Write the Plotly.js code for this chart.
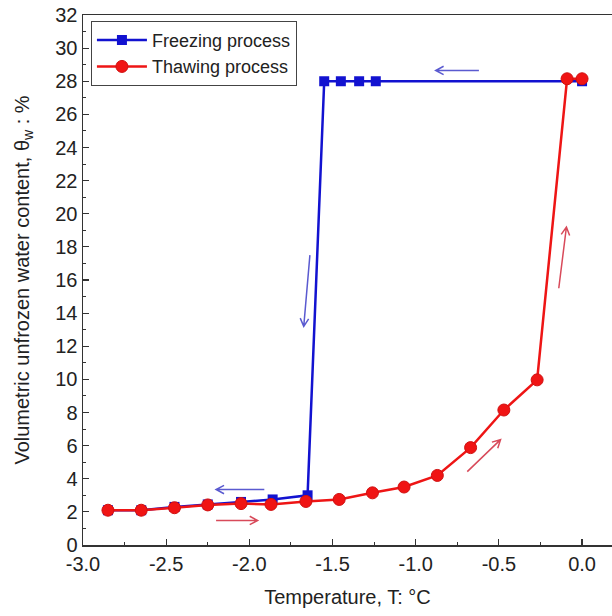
<!DOCTYPE html>
<html>
<head>
<meta charset="utf-8">
<script src="https://cdn.plot.ly/plotly-3.0.1.min.js"></script>
<style>html,body{margin:0;padding:0;background:#fff;}#chart{width:612px;height:616px;}</style>
</head>
<body>
<div id="chart"></div>
<script>
// Data
const freezeT = [0.0, -1.24, -1.34, -1.45, -1.55, -1.65, -1.86, -2.05, -2.25, -2.45, -2.65, -2.85];
const freezeW = [28.0, 28.0, 28.0, 28.0, 28.0, 3.0, 2.75, 2.6, 2.45, 2.3, 2.1, 2.1];
const thawT = [-2.85, -2.65, -2.45, -2.25, -2.05, -1.87, -1.66, -1.46, -1.26, -1.07, -0.87, -0.67, -0.47, -0.27, -0.09, 0.0];
const thawW = [2.1, 2.1, 2.25, 2.42, 2.5, 2.45, 2.63, 2.75, 3.15, 3.5, 4.2, 5.88, 8.15, 9.97, 28.15, 28.15];
const xTickVals = [-3.0, -2.5, -2.0, -1.5, -1.0, -0.5, 0.0];
const xTickText = ["-3.0", "-2.5", "-2.0", "-1.5", "-1.0", "-0.5", "0.0"];
const seriesNames = ["Freezing process", "Thawing process"];
// Direction arrows: [tailX, tailY, tipX, tipY, colour]
const arrows = [
  [-0.62, 28.65, -0.88, 28.65, '#5a5ad0'],
  [-1.91, 3.35, -2.20, 3.35, '#5a5ad0'],
  [-1.636, 17.5, -1.673, 13.2, '#5a5ad0'],
  [-2.20, 1.48, -1.95, 1.48, '#d84a5a'],
  [-0.69, 4.43, -0.49, 6.36, '#d84a5a'],
  [-0.14, 15.5, -0.094, 19.2, '#d84a5a']
];

const W = 612, H = 616;
const m = {l: 83, r: 0, t: 15, b: 71};
const xr = [-3.0, 0.18], yr = [0, 32];
const pxX = (W - m.l - m.r) / (xr[1] - xr[0]);
const pxY = (H - m.t - m.b) / (yr[1] - yr[0]);

function arrowPath(a) {
  const [x1, y1, x2, y2] = a;
  const dx = (x2 - x1) * pxX, dy = (y2 - y1) * pxY;
  const len = Math.hypot(dx, dy);
  const ux = dx / len, uy = dy / len;
  const L = 9, ang = 28 * Math.PI / 180;
  const pts = [ang, -ang].map(t => {
    const rx = ux * Math.cos(t) - uy * Math.sin(t);
    const ry = ux * Math.sin(t) + uy * Math.cos(t);
    return [x2 - L * rx / pxX, y2 - L * ry / pxY];
  });
  return `M ${x1} ${y1} L ${x2} ${y2} M ${pts[0][0]} ${pts[0][1]} L ${x2} ${y2} L ${pts[1][0]} ${pts[1][1]}`;
}

const font = {family: 'Liberation Sans, Arial, sans-serif', size: 20, color: '#222'};
const legFont = {family: 'Liberation Sans, Arial, sans-serif', size: 18, color: '#222'};

const traces = [
  {x: freezeT, y: freezeW, name: seriesNames[0], type: 'scatter', mode: 'lines+markers',
   line: {color: '#1212d0', width: 2.5},
   marker: {symbol: 'square', size: 10, color: '#1212d0'}},
  {x: thawT, y: thawW, name: seriesNames[1], type: 'scatter', mode: 'lines+markers',
   line: {color: '#ee1515', width: 2.5},
   marker: {symbol: 'circle', size: 12, color: '#f01414', line: {color: '#d01010', width: 1}}}
];

const layout = {
  width: W, height: H,
  margin: m,
  paper_bgcolor: '#fff', plot_bgcolor: '#fff',
  font: font,
  showlegend: true,
  legend: {x: 0.015, y: 0.989, xanchor: 'left', yanchor: 'top',
    bgcolor: '#fff', bordercolor: '#444', borderwidth: 1,
    font: legFont, itemwidth: 50, tracegroupgap: 0},
  xaxis: {range: xr, showgrid: false, zeroline: false,
    showline: true, linecolor: '#333', linewidth: 1.5, mirror: true,
    ticks: 'inside', ticklen: 6, tickcolor: '#333', tickwidth: 1.2,
    tickmode: 'array', tickvals: xTickVals, ticktext: xTickText,
    minor: {tickmode: 'linear', tick0: 0, dtick: 0.25, ticks: 'inside', ticklen: 3, tickcolor: '#333', tickwidth: 1},
    tickfont: font,
    title: {text: 'Temperature, T: °C', font: font, standoff: 16}},
  yaxis: {range: yr, showgrid: false, zeroline: false,
    showline: true, linecolor: '#333', linewidth: 1.5, mirror: false,
    ticks: 'inside', ticklen: 6, tickcolor: '#333', tickwidth: 1.2,
    dtick: 2, tick0: 0,
    minor: {tickmode: 'linear', tick0: 0, dtick: 1, ticks: 'inside', ticklen: 3, tickcolor: '#333', tickwidth: 1},
    tickfont: font,
    title: {text: 'Volumetric unfrozen water content, θ<sub>w</sub> : %', font: font, standoff: 20}},
  shapes: arrows.map(a => ({type: 'path', xref: 'x', yref: 'y', path: arrowPath(a),
    line: {color: a[4], width: 1.5}}))
};

Plotly.newPlot('chart', traces, layout, {displayModeBar: false, staticPlot: true});
</script>
</body>
</html>
